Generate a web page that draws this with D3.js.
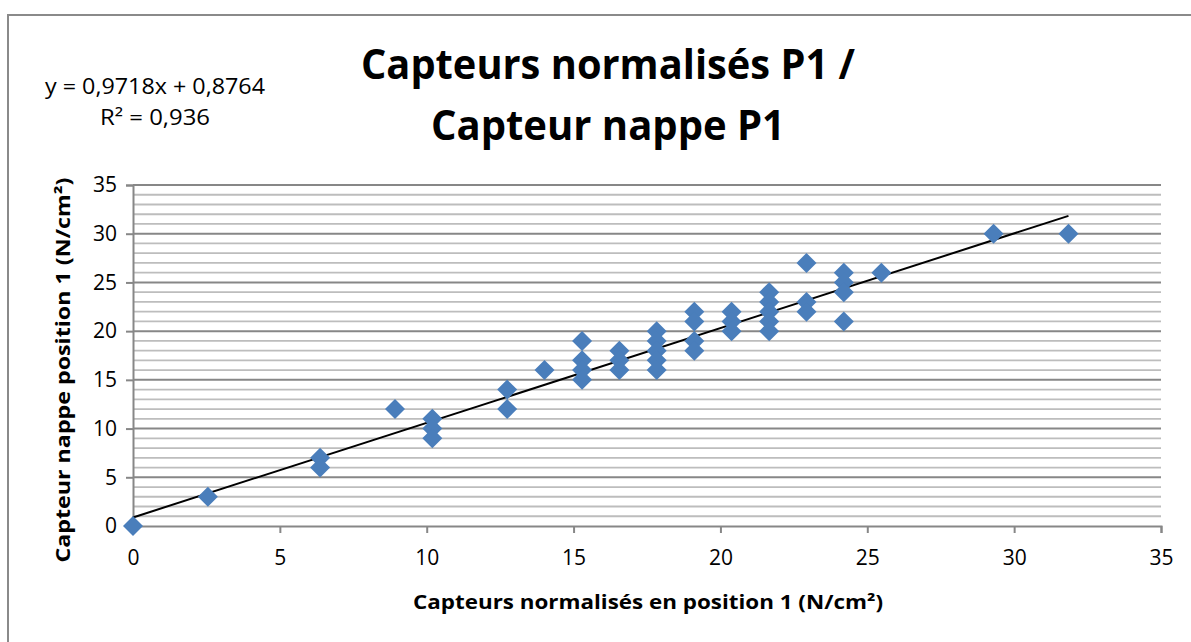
<!DOCTYPE html>
<html>
<head>
  <meta charset="utf-8">
  <title>Capteurs normalisés P1 / Capteur nappe P1</title>
  <script src="https://d3js.org/d3.v7.min.js"></script>
  <style>
    html, body {
      margin: 0;
      padding: 0;
      background: #fff;
    }
    svg text {
      font-family: 'Open Sans', 'Noto Sans', sans-serif;
      fill: #000;
    }
  </style>
</head>
<body>
  <svg id="chart" width="1191" height="642"></svg>
  <script>
  // values
  const normX = [0, 2.55, 6.37, 6.37, 8.92, 10.19, 10.19, 10.19, 12.74, 12.74, 14.01,
    15.29, 15.29, 15.29, 15.29, 16.56, 16.56, 16.56,
    17.83, 17.83, 17.83, 17.83, 17.83, 19.11, 19.11, 19.11, 19.11,
    20.38, 20.38, 20.38, 21.66, 21.66, 21.66, 21.66, 21.66,
    22.93, 22.93, 22.93, 24.2, 24.2, 24.2, 24.2, 25.48, 29.3, 31.85];
  const nappeY = [0, 3, 7, 6, 12, 11, 10, 9, 14, 12, 16,
    19, 17, 16, 15, 18, 17, 16,
    20, 19, 18, 17, 16, 22, 21, 19, 18,
    22, 21, 20, 24, 23, 22, 21, 20,
    27, 23, 22, 26, 25, 24, 21, 26, 30, 30];
  const slope = 0.9718;
  const intercept = 0.8764;
  const equationLines = ["y = 0,9718x + 0,8764", "R² = 0,936"];
  const titleLines = ["Capteurs normalisés P1 /", "Capteur nappe P1"];
  const xTitle = "Capteurs normalisés en position 1 (N/cm²)";
  const yTitle = "Capteur nappe position 1 (N/cm²)";
  const majorTicks = [0, 5, 10, 15, 20, 25, 30, 35];

  const svg = d3.select("#chart");
  const x = d3.scaleLinear().domain([0, 35]).range([133, 1161]);
  const y = d3.scaleLinear().domain([0, 35]).range([526, 185]);

  // chart frame (only top and left are visible in the picture)
  svg.append("path")
    .attr("d", "M8,642V15H1191")
    .attr("fill", "none")
    .attr("stroke", "#8a8a8a")
    .attr("stroke-width", 2);

  // minor gridlines every 1, major every 5
  svg.append("g")
    .selectAll("line")
    .data(d3.range(1, 36).filter(v => v % 5 !== 0))
    .join("line")
    .attr("x1", x(0)).attr("x2", x(35))
    .attr("y1", d => y(d)).attr("y2", d => y(d))
    .attr("stroke", "#bdbdbd")
    .attr("stroke-width", 1.8);

  svg.append("g")
    .selectAll("line")
    .data(majorTicks.filter(v => v > 0))
    .join("line")
    .attr("x1", x(0)).attr("x2", x(35))
    .attr("y1", d => y(d)).attr("y2", d => y(d))
    .attr("stroke", "#878787")
    .attr("stroke-width", 2);

  // axes
  const yAxis = svg.append("g")
    .attr("transform", `translate(${x(0)},0)`)
    .call(d3.axisLeft(y).tickValues(majorTicks).tickSize(7).tickPadding(9));
  const xAxis = svg.append("g")
    .attr("transform", `translate(0,${y(0)})`)
    .call(d3.axisBottom(x).tickValues(majorTicks).tickSize(7).tickPadding(17));

  [xAxis, yAxis].forEach(a => {
    a.select(".domain").attr("stroke", "#878787").attr("stroke-width", 2);
    a.selectAll(".tick line").attr("stroke", "#878787").attr("stroke-width", 2);
    a.selectAll(".tick text")
      .attr("font-family", "'Open Sans', sans-serif")
      .attr("font-size", 21)
      .attr("fill", "#000");
  });

  // trend line
  const xMin = d3.min(normX), xMax = d3.max(normX);
  svg.append("line")
    .attr("x1", x(xMin)).attr("y1", y(slope * xMin + intercept))
    .attr("x2", x(xMax)).attr("y2", y(slope * xMax + intercept))
    .attr("stroke", "#000")
    .attr("stroke-width", 2);

  // diamond markers
  const diamond = d3.symbol(d3.symbolDiamond2, 255);
  svg.append("g")
    .selectAll("path")
    .data(normX.map((v, i) => [v, nappeY[i]]))
    .join("path")
    .attr("transform", d => `translate(${x(d[0])},${y(d[1])})`)
    .attr("d", diamond)
    .attr("fill", "#4a7ebb");

  // title
  svg.append("text")
    .attr("text-anchor", "middle")
    .attr("font-size", 42)
    .attr("font-weight", "bold")
    .selectAll("tspan")
    .data(titleLines)
    .join("tspan")
    .attr("x", 608)
    .attr("y", (d, i) => 79 + i * 61)
    .attr("textLength", (d, i) => i === 0 ? 494 : 354)
    .attr("lengthAdjust", "spacingAndGlyphs")
    .text(d => d);

  // equation
  svg.append("text")
    .attr("text-anchor", "middle")
    .attr("font-size", 21)
    .selectAll("tspan")
    .data(equationLines)
    .join("tspan")
    .attr("x", 155)
    .attr("y", (d, i) => 94 + i * 31)
    .attr("textLength", (d, i) => i === 0 ? 220 : 110)
    .attr("lengthAdjust", "spacingAndGlyphs")
    .text(d => d);

  // axis titles
  svg.append("text")
    .attr("x", 648)
    .attr("y", 609)
    .attr("text-anchor", "middle")
    .attr("font-size", 19)
    .attr("font-weight", "bold")
    .attr("textLength", 470)
    .attr("lengthAdjust", "spacingAndGlyphs")
    .text(xTitle);

  svg.append("text")
    .attr("transform", "translate(70,370) rotate(-90)")
    .attr("text-anchor", "middle")
    .attr("font-size", 19)
    .attr("font-weight", "bold")
    .attr("textLength", 385)
    .attr("lengthAdjust", "spacingAndGlyphs")
    .text(yTitle);
  </script>
</body>
</html>
